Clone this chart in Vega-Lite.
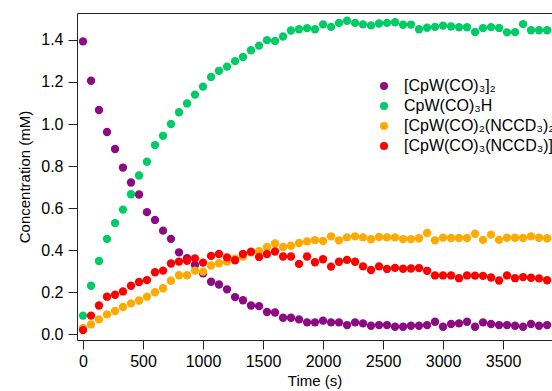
{
  "$schema": "https://vega.github.io/schema/vega-lite/v6.json",
  "width": 475,
  "height": 327,
  "autosize": {"type": "none"},
  "padding": {"left": 77, "top": 13, "right": 0, "bottom": 51},
  "background": "white",
  "config": {
    "font": "Liberation Sans",
    "view": {"stroke": null},
    "axis": {
      "domainColor": "#222",
      "tickColor": "#222",
      "labelColor": "#000",
      "titleColor": "#000",
      "grid": false,
      "labelFontSize": 16,
      "titleFontSize": 15,
      "titleFontWeight": "normal",
      "tickSize": 9
    }
  },
  "data": {
    "values": [
      {"t":0,"a":1.393,"b":0.089,"c":0.030,"d":0.020},
      {"t":67,"a":1.206,"b":0.231,"c":0.047,"d":0.089},
      {"t":133,"a":1.067,"b":0.349,"c":0.071,"d":0.137},
      {"t":200,"a":0.962,"b":0.454,"c":0.095,"d":0.179},
      {"t":267,"a":0.881,"b":0.529,"c":0.111,"d":0.188},
      {"t":333,"a":0.793,"b":0.593,"c":0.130,"d":0.204},
      {"t":400,"a":0.722,"b":0.666,"c":0.147,"d":0.231},
      {"t":467,"a":0.665,"b":0.755,"c":0.161,"d":0.249},
      {"t":533,"a":0.581,"b":0.821,"c":0.179,"d":0.258},
      {"t":600,"a":0.544,"b":0.900,"c":0.200,"d":0.295},
      {"t":667,"a":0.493,"b":0.944,"c":0.219,"d":0.303},
      {"t":733,"a":0.454,"b":1.000,"c":0.255,"d":0.337},
      {"t":800,"a":0.390,"b":1.056,"c":0.281,"d":0.346},
      {"t":867,"a":0.362,"b":1.098,"c":0.281,"d":0.350},
      {"t":933,"a":0.330,"b":1.140,"c":0.303,"d":0.361},
      {"t":1000,"a":0.290,"b":1.178,"c":0.298,"d":0.341},
      {"t":1067,"a":0.250,"b":1.224,"c":0.327,"d":0.373},
      {"t":1133,"a":0.237,"b":1.253,"c":0.338,"d":0.382},
      {"t":1200,"a":0.214,"b":1.273,"c":0.346,"d":0.366},
      {"t":1267,"a":0.177,"b":1.299,"c":0.360,"d":0.352},
      {"t":1333,"a":0.162,"b":1.319,"c":0.370,"d":0.382},
      {"t":1400,"a":0.137,"b":1.351,"c":0.389,"d":0.393},
      {"t":1467,"a":0.134,"b":1.373,"c":0.395,"d":0.368},
      {"t":1533,"a":0.106,"b":1.399,"c":0.415,"d":0.382},
      {"t":1600,"a":0.104,"b":1.395,"c":0.432,"d":0.394},
      {"t":1667,"a":0.079,"b":1.416,"c":0.415,"d":0.370},
      {"t":1733,"a":0.079,"b":1.445,"c":0.421,"d":0.370},
      {"t":1800,"a":0.071,"b":1.451,"c":0.434,"d":0.335},
      {"t":1867,"a":0.057,"b":1.456,"c":0.442,"d":0.370},
      {"t":1933,"a":0.057,"b":1.451,"c":0.448,"d":0.343},
      {"t":2000,"a":0.065,"b":1.474,"c":0.444,"d":0.357},
      {"t":2067,"a":0.057,"b":1.462,"c":0.466,"d":0.322},
      {"t":2133,"a":0.057,"b":1.481,"c":0.447,"d":0.345},
      {"t":2200,"a":0.044,"b":1.491,"c":0.461,"d":0.354},
      {"t":2267,"a":0.057,"b":1.481,"c":0.466,"d":0.345},
      {"t":2333,"a":0.052,"b":1.474,"c":0.461,"d":0.323},
      {"t":2400,"a":0.041,"b":1.469,"c":0.452,"d":0.306},
      {"t":2467,"a":0.044,"b":1.478,"c":0.463,"d":0.323},
      {"t":2533,"a":0.044,"b":1.481,"c":0.461,"d":0.311},
      {"t":2600,"a":0.036,"b":1.484,"c":0.461,"d":0.316},
      {"t":2667,"a":0.036,"b":1.472,"c":0.453,"d":0.312},
      {"t":2733,"a":0.041,"b":1.473,"c":0.453,"d":0.313},
      {"t":2800,"a":0.041,"b":1.451,"c":0.457,"d":0.315},
      {"t":2867,"a":0.044,"b":1.458,"c":0.482,"d":0.302},
      {"t":2933,"a":0.060,"b":1.462,"c":0.447,"d":0.280},
      {"t":3000,"a":0.036,"b":1.468,"c":0.460,"d":0.280},
      {"t":3067,"a":0.049,"b":1.464,"c":0.458,"d":0.280},
      {"t":3133,"a":0.052,"b":1.460,"c":0.458,"d":0.267},
      {"t":3200,"a":0.060,"b":1.460,"c":0.458,"d":0.280},
      {"t":3267,"a":0.036,"b":1.438,"c":0.478,"d":0.279},
      {"t":3333,"a":0.057,"b":1.456,"c":0.449,"d":0.278},
      {"t":3400,"a":0.049,"b":1.461,"c":0.474,"d":0.270},
      {"t":3467,"a":0.044,"b":1.457,"c":0.449,"d":0.256},
      {"t":3533,"a":0.044,"b":1.436,"c":0.459,"d":0.280},
      {"t":3600,"a":0.041,"b":1.437,"c":0.459,"d":0.267},
      {"t":3667,"a":0.036,"b":1.475,"c":0.458,"d":0.272},
      {"t":3733,"a":0.049,"b":1.446,"c":0.466,"d":0.269},
      {"t":3800,"a":0.041,"b":1.446,"c":0.459,"d":0.266},
      {"t":3867,"a":0.044,"b":1.446,"c":0.457,"d":0.257}
    ]
  },
  "transform": [{"fold": ["a", "b", "c", "d"], "as": ["s", "v"]}],
  "layer": [
    {
      "mark": {"type": "point", "filled": true, "opacity": 1, "size": 70, "clip": true},
      "encoding": {
        "x": {
          "field": "t", "type": "quantitative",
          "scale": {"domain": [-50, 3908], "nice": false, "zero": false},
          "axis": {"values": [0, 500, 1000, 1500, 2000, 2500, 3000, 3500], "format": "d", "title": "Time (s)", "labelPadding": 4, "titlePadding": 4}
        },
        "y": {
          "field": "v", "type": "quantitative",
          "scale": {"domain": [-0.027, 1.528], "nice": false, "zero": false},
          "axis": {"values": [0, 0.2, 0.4, 0.6, 0.8, 1.0, 1.2, 1.4], "format": ".1f", "title": "Concentration (mM)", "labelPadding": 5, "titlePadding": 8}
        },
        "color": {
          "field": "s", "type": "nominal",
          "scale": {"domain": ["a", "b", "c", "d"], "range": ["#8c0a82", "#00cc66", "#ffaa00", "#ff0000"]},
          "legend": {
            "title": null,
            "orient": "none",
            "legendX": 299,
            "legendY": 65,
            "padding": 0,
            "symbolType": "circle",
            "symbolSize": 64,
            "symbolStrokeWidth": 0,
            "labelFontSize": 16,
            "labelOffset": 12,
            "labelLimit": 0,
            "rowPadding": 4,
            "labelColor": "#000",
            "labelExpr": "{'a': '[CpW(CO)₃]₂', 'b': 'CpW(CO)₃H', 'c': '[CpW(CO)₂(NCCD₃)₂]⁺', 'd': '[CpW(CO)₃(NCCD₃)]⁺'}[datum.value]"
          }
        },
        "order": {"field": "s", "type": "nominal"}
      }
    },
    {
      "mark": {"type": "point", "opacity": 0},
      "encoding": {
        "x": {
          "field": "t", "type": "quantitative",
          "axis": {"orient": "top", "labels": false, "ticks": false, "title": null}
        }
      }
    }
  ],
  "resolve": {"axis": {"x": "independent"}}
}
